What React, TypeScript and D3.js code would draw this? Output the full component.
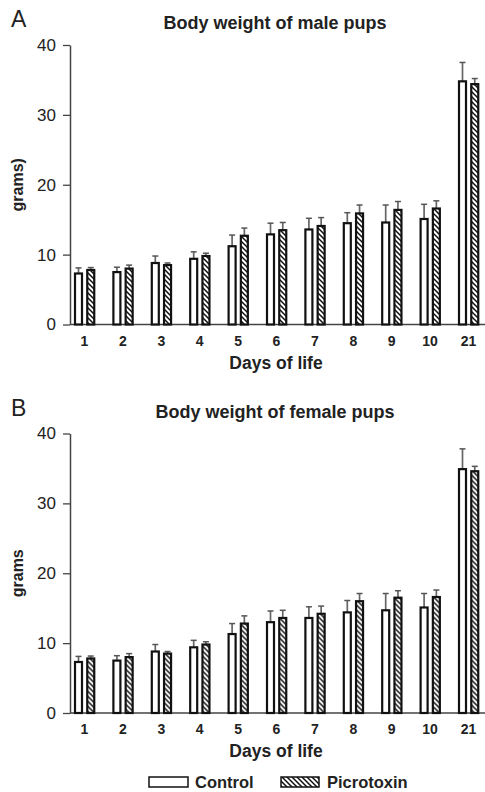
import React, { useEffect, useRef } from 'react';
import * as d3 from 'd3';

// x categories
const days = ['1', '2', '3', '4', '5', '6', '7', '8', '9', '10', '21'];
const yTicks = [0, 10, 20, 30, 40];

// Panel A - male pups (mean, SEM)
const maleControl = [7.3, 7.5, 8.8, 9.4, 11.2, 12.9, 13.6, 14.5, 14.6, 15.1, 34.8];
const maleControlSem = [0.8, 0.7, 1.0, 1.0, 1.6, 1.6, 1.6, 1.5, 2.5, 2.1, 2.7];
const malePicro = [7.8, 8.0, 8.5, 9.8, 12.7, 13.5, 14.1, 15.9, 16.4, 16.6, 34.4];
const malePicroSem = [0.35, 0.5, 0.3, 0.4, 1.1, 1.1, 1.2, 1.2, 1.2, 1.1, 0.8];

// Panel B - female pups
const femaleControl = [7.3, 7.5, 8.8, 9.4, 11.3, 13.0, 13.6, 14.4, 14.7, 15.1, 34.9];
const femaleControlSem = [0.8, 0.7, 1.0, 1.0, 1.5, 1.6, 1.6, 1.7, 2.4, 2.0, 2.9];
const femalePicro = [7.8, 8.0, 8.5, 9.8, 12.8, 13.6, 14.2, 16.0, 16.5, 16.6, 34.6];
const femalePicroSem = [0.35, 0.5, 0.3, 0.4, 1.1, 1.1, 1.1, 1.1, 1.0, 1.0, 0.7];

const W = 485;
const H = 792;
const FONT = '"Liberation Sans", Arial, Helvetica, sans-serif';

interface PanelSpec {
  letter: string;
  title: string;
  yLabel: string;
  offset: number;
  control: number[];
  controlSem: number[];
  picro: number[];
  picroSem: number[];
}

const panels: PanelSpec[] = [
  {
    letter: 'A', title: 'Body weight of male pups', yLabel: 'grams)', offset: 0,
    control: maleControl, controlSem: maleControlSem, picro: malePicro, picroSem: malePicroSem
  },
  {
    letter: 'B', title: 'Body weight of female pups', yLabel: 'grams', offset: 388.5,
    control: femaleControl, controlSem: femaleControlSem, picro: femalePicro, picroSem: femalePicroSem
  }
];

function drawPanel(svg: d3.Selection<SVGSVGElement, unknown, null, undefined>, p: PanelSpec) {
  const g = svg.append('g').attr('transform', `translate(0,${p.offset})`);

  const y = d3.scaleLinear().domain([0, 40]).range([324.5, 45]);
  const x = d3.scalePoint<string>().domain(days).range([84.5, 468.5]);

  // panel letter
  g.append('text')
    .attr('x', 11).attr('y', 27)
    .style('font-family', FONT).style('font-size', '23px')
    .style('fill', '#222')
    .text(p.letter);

  // title
  g.append('text')
    .attr('x', 275).attr('y', 29)
    .attr('text-anchor', 'middle')
    .style('font-family', FONT).style('font-size', '18px').style('font-weight', 'bold')
    .style('fill', '#222')
    .text(p.title);

  // y axis
  const yAxis = g.append('g')
    .attr('transform', 'translate(70,0)')
    .call(d3.axisLeft(y).tickValues(yTicks).tickSize(7).tickSizeOuter(0).tickPadding(7));
  yAxis.select('.domain').attr('stroke', '#444').attr('stroke-width', 1.5);
  yAxis.selectAll('.tick line').attr('stroke', '#444').attr('stroke-width', 1.3);
  yAxis.selectAll('.tick text')
    .style('font-family', FONT).style('font-size', '17px').style('fill', '#222');

  // y label
  g.append('text')
    .attr('transform', `translate(23,${(y(0) + y(40)) / 2}) rotate(-90)`)
    .attr('text-anchor', 'middle')
    .style('font-family', FONT).style('font-size', '16px').style('font-weight', 'bold')
    .style('fill', '#222')
    .text(p.yLabel);

  // x axis baseline
  g.append('line')
    .attr('x1', 70).attr('x2', W)
    .attr('y1', y(0)).attr('y2', y(0))
    .attr('stroke', '#444').attr('stroke-width', 1.5);

  // x tick labels
  g.selectAll('.xlab')
    .data(days)
    .join('text')
    .attr('class', 'xlab')
    .attr('x', d => x(d) || 0)
    .attr('y', y(0) + 21)
    .attr('text-anchor', 'middle')
    .style('font-family', FONT).style('font-size', '14px').style('font-weight', 'bold')
    .style('fill', '#222')
    .text(d => d);

  g.append('text')
    .attr('x', 276).attr('y', y(0) + 44)
    .attr('text-anchor', 'middle')
    .style('font-family', FONT).style('font-size', '17.5px').style('font-weight', 'bold')
    .style('fill', '#222')
    .text('Days of life');

  const series = [
    { vals: p.control, sem: p.controlSem, dx: -9.5, fill: 'white' },
    { vals: p.picro, sem: p.picroSem, dx: 2.75, fill: 'url(#hatch)' }
  ];
  const bw = 7;

  series.forEach(s => {
    const rows = days.map((d, i) => ({ d, v: s.vals[i], e: s.sem[i] }));
    const cx = (d: string) => (x(d) || 0) + s.dx + bw / 2;

    // error bars (upper only)
    g.selectAll(null)
      .data(rows)
      .join('line')
      .attr('x1', r => cx(r.d)).attr('x2', r => cx(r.d))
      .attr('y1', r => y(r.v)).attr('y2', r => y(r.v + r.e))
      .attr('stroke', '#666').attr('stroke-width', 1.7);
    g.selectAll(null)
      .data(rows)
      .join('line')
      .attr('x1', r => cx(r.d) - 3).attr('x2', r => cx(r.d) + 3)
      .attr('y1', r => y(r.v + r.e)).attr('y2', r => y(r.v + r.e))
      .attr('stroke', '#555').attr('stroke-width', 1.5);

    g.selectAll(null)
      .data(rows)
      .join('rect')
      .attr('x', r => (x(r.d) || 0) + s.dx)
      .attr('y', r => y(r.v))
      .attr('width', bw)
      .attr('height', r => y(0) - y(r.v))
      .attr('fill', s.fill)
      .attr('stroke', '#111')
      .attr('stroke-width', 2.2);
  });
}

const App: React.FC = () => {
  const svgRef = useRef<SVGSVGElement>(null);

  useEffect(() => {
    if (!svgRef.current) return;
    const svg = d3.select(svgRef.current);
    svg.selectAll('*').remove();

    const defs = svg.append('defs');
    const pat = defs.append('pattern')
      .attr('id', 'hatch')
      .attr('patternUnits', 'userSpaceOnUse')
      .attr('width', 5).attr('height', 5);
    pat.append('rect').attr('width', 5).attr('height', 5).attr('fill', 'white');
    pat.append('path')
      .attr('d', 'M0,0 L5,5 M-1,4 L1,6 M4,-1 L6,1')
      .attr('stroke', '#111').attr('stroke-width', 1.5);

    panels.forEach(p => drawPanel(svg, p));

    // legend
    const lg = svg.append('g');
    lg.append('rect')
      .attr('x', 149).attr('y', 777).attr('width', 39).attr('height', 10)
      .attr('fill', 'white').attr('stroke', '#111').attr('stroke-width', 1.5);
    lg.append('text')
      .attr('x', 195).attr('y', 788)
      .style('font-family', FONT).style('font-size', '16.5px').style('font-weight', 'bold')
      .style('fill', '#222')
      .text('Control');
    lg.append('rect')
      .attr('x', 281).attr('y', 777).attr('width', 38).attr('height', 10)
      .attr('fill', 'url(#hatch)').attr('stroke', '#111').attr('stroke-width', 1.5);
    lg.append('text')
      .attr('x', 327).attr('y', 788)
      .style('font-family', FONT).style('font-size', '16.5px').style('font-weight', 'bold')
      .style('fill', '#222')
      .text('Picrotoxin');
  }, []);

  return (
    <div style={{ position: 'absolute', left: 0, top: 0, background: 'white' }}>
      <svg ref={svgRef} width={W} height={H} style={{ display: 'block' }} />
    </div>
  );
};

export default App;
